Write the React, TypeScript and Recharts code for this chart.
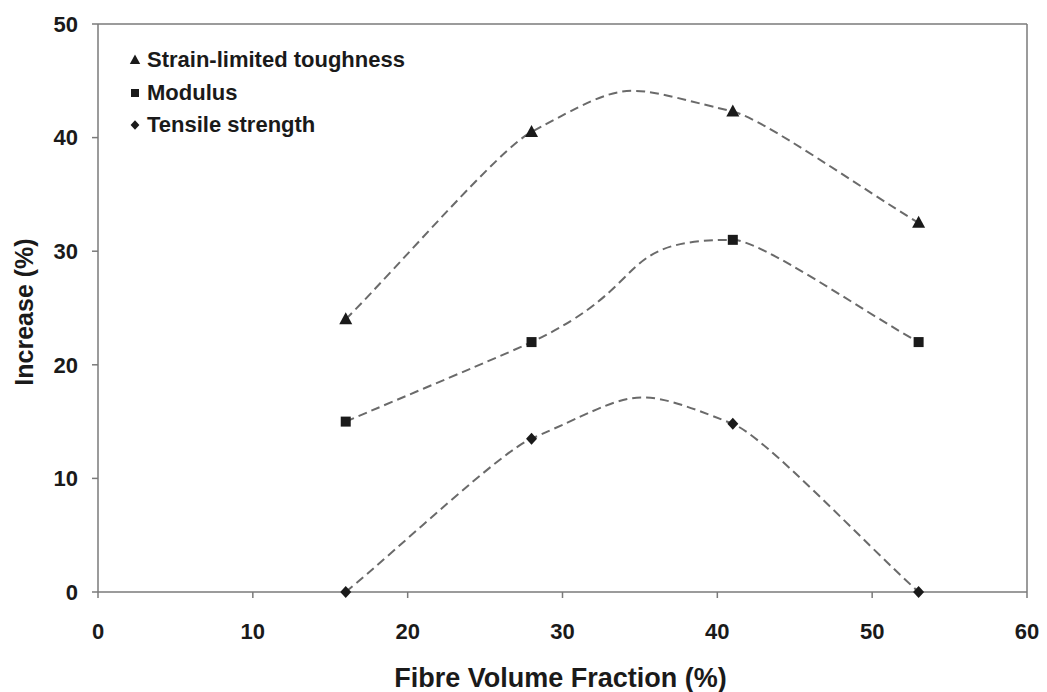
import React from 'react';
import { LineChart, Line, XAxis, YAxis, Legend, ReferenceLine } from 'recharts';

const fibreFraction = [16, 28, 41, 53];
const toughness = [24, 40.5, 42.3, 32.5];
const modulus = [15, 22, 31, 22];
const tensile = [0, 13.5, 14.8, 0];
const xTicks = [0, 10, 20, 30, 40, 50, 60];
const yTicks = [0, 10, 20, 30, 40, 50];

const data = fibreFraction.map((x, i) => ({
  x,
  toughness: toughness[i],
  modulus: modulus[i],
  tensile: tensile[i],
}));

const FONT = '"Liberation Sans", Arial, sans-serif';
const LINE = '#6a6a6a';
const AXIS = '#7a7a7a';
const INK = '#1a1a1a';

// Smoothed curve through the points (chord-weighted bezier, Excel-like look)
const smoothCurve = (context: any) => {
  let pts: number[][] = [];
  const F_MID = 0.61;
  const F_END = 0.15;
  const F_CHORD = 0.3;
  const dist = (a: number[], b: number[]) => Math.hypot(b[0] - a[0], b[1] - a[1]);
  return {
    areaStart() {},
    areaEnd() {},
    lineStart() { pts = []; },
    point(x: number, y: number) { pts.push([+x, +y]); },
    lineEnd() {
      const n = pts.length;
      if (!n) return;
      context.moveTo(pts[0][0], pts[0][1]);
      for (let i = 0; i < n - 1; i++) {
        const p1 = pts[i];
        const p2 = pts[i + 1];
        const p0 = i > 0 ? pts[i - 1] : null;
        const p3 = i + 2 < n ? pts[i + 2] : null;
        const interior = !!p0 && !!p3;
        const f = interior ? F_MID : F_END;
        const d12 = dist(p1, p2);
        let c1: number[];
        let c2: number[];
        if (p0) {
          const w = d12 / (dist(p0, p1) + d12);
          c1 = [p1[0] + f * w * (p2[0] - p0[0]), p1[1] + f * w * (p2[1] - p0[1])];
        } else {
          c1 = [p1[0] + F_CHORD * (p2[0] - p1[0]), p1[1] + F_CHORD * (p2[1] - p1[1])];
        }
        if (p3) {
          const w = d12 / (d12 + dist(p2, p3));
          c2 = [p2[0] - f * w * (p3[0] - p1[0]), p2[1] - f * w * (p3[1] - p1[1])];
        } else {
          c2 = [p2[0] - F_CHORD * (p2[0] - p1[0]), p2[1] - F_CHORD * (p2[1] - p1[1])];
        }
        context.bezierCurveTo(c1[0], c1[1], c2[0], c2[1], p2[0], p2[1]);
      }
    },
  };
};

const Marker = ({ shape, cx, cy }: { shape: string; cx: number; cy: number }) => {
  if (shape === 'triangle') {
    return <path d={`M${cx},${cy - 7}L${cx + 6.5},${cy + 5}L${cx - 6.5},${cy + 5}Z`} fill={INK} />;
  }
  if (shape === 'square') {
    return <rect x={cx - 5} y={cy - 5} width={10} height={10} fill={INK} />;
  }
  return <path d={`M${cx},${cy - 6}L${cx + 5.5},${cy}L${cx},${cy + 6}L${cx - 5.5},${cy}Z`} fill={INK} />;
};

const makeDot = (shape: string) => (props: any) => (
  <Marker key={`${shape}-${props.index}`} shape={shape} cx={props.cx} cy={props.cy} />
);

const legendItems = [
  { label: 'Strain-limited toughness', shape: 'triangle' },
  { label: 'Modulus', shape: 'square' },
  { label: 'Tensile strength', shape: 'diamond' },
];

const renderLegend = () => (
  <div style={{ fontFamily: FONT, fontWeight: 'bold', fontSize: 22, color: INK }}>
    {legendItems.map((it) => (
      <div key={it.label} style={{ display: 'flex', alignItems: 'center', height: 32.5 }}>
        <svg width={16} height={16} style={{ marginRight: 4 }}>
          <g transform="scale(0.8) translate(2,2)">
            <Marker shape={it.shape} cx={8} cy={8} />
          </g>
        </svg>
        <span>{it.label}</span>
      </div>
    ))}
  </div>
);

const titleStyle = { fill: INK, fontFamily: FONT, fontWeight: 'bold' as const };

const XTitle = (props: any) => {
  const vb = props.viewBox;
  return (
    <text x={vb.x + vb.width / 2 - 2} y={vb.y + vb.height + 35} textAnchor="middle" fontSize={27} style={titleStyle}>
      Fibre Volume Fraction (%)
    </text>
  );
};

const YTitle = (props: any) => {
  const vb = props.viewBox;
  const cx = 23.5;
  const cy = vb.y + vb.height / 2 + 4;
  return (
    <text
      x={cx}
      y={cy}
      dy="0.36em"
      textAnchor="middle"
      fontSize={25}
      transform={`rotate(-90, ${cx}, ${cy})`}
      style={titleStyle}
    >
      Increase (%)
    </text>
  );
};

export default function App() {
  return (
    <div style={{ position: 'absolute', left: 0, top: 0, background: '#fff' }}>
      <LineChart
        width={1047}
        height={692}
        data={data}
        margin={{ top: 24, right: 20, bottom: 40, left: 8 }}
      >
        <XAxis
          dataKey="x"
          type="number"
          domain={[0, 60]}
          ticks={xTicks}
          allowDataOverflow
          stroke={AXIS}
          strokeWidth={1.5}
          tickSize={6}
          tickMargin={25}
          height={60}
          tick={{ fill: INK, fontFamily: FONT, fontWeight: 'bold', fontSize: 22 }}
          label={<XTitle />}
        />
        <YAxis
          type="number"
          domain={[0, 50]}
          ticks={yTicks}
          width={90}
          stroke={AXIS}
          strokeWidth={1.5}
          tickSize={6}
          tickMargin={14}
          tick={{ fill: INK, fontFamily: FONT, fontWeight: 'bold', fontSize: 22 }}
          label={<YTitle />}
        />
        <ReferenceLine y={50} stroke={AXIS} strokeWidth={1.5} />
        <ReferenceLine x={60} stroke={AXIS} strokeWidth={1.5} />
        <Legend
          layout="horizontal"
          verticalAlign="middle"
          align="center"
          content={renderLegend}
          wrapperStyle={{ left: 127, top: 44, width: 340, height: 100 }}
        />
        <Line
          dataKey="toughness"
          type={smoothCurve as any}
          stroke={LINE}
          strokeWidth={2}
          strokeDasharray="9 5"
          dot={makeDot('triangle')}
          activeDot={false}
          isAnimationActive={false}
        />
        <Line
          dataKey="modulus"
          type={smoothCurve as any}
          stroke={LINE}
          strokeWidth={2}
          strokeDasharray="9 5"
          dot={makeDot('square')}
          activeDot={false}
          isAnimationActive={false}
        />
        <Line
          dataKey="tensile"
          type={smoothCurve as any}
          stroke={LINE}
          strokeWidth={2}
          strokeDasharray="9 5"
          dot={makeDot('diamond')}
          activeDot={false}
          isAnimationActive={false}
        />
      </LineChart>
    </div>
  );
}
